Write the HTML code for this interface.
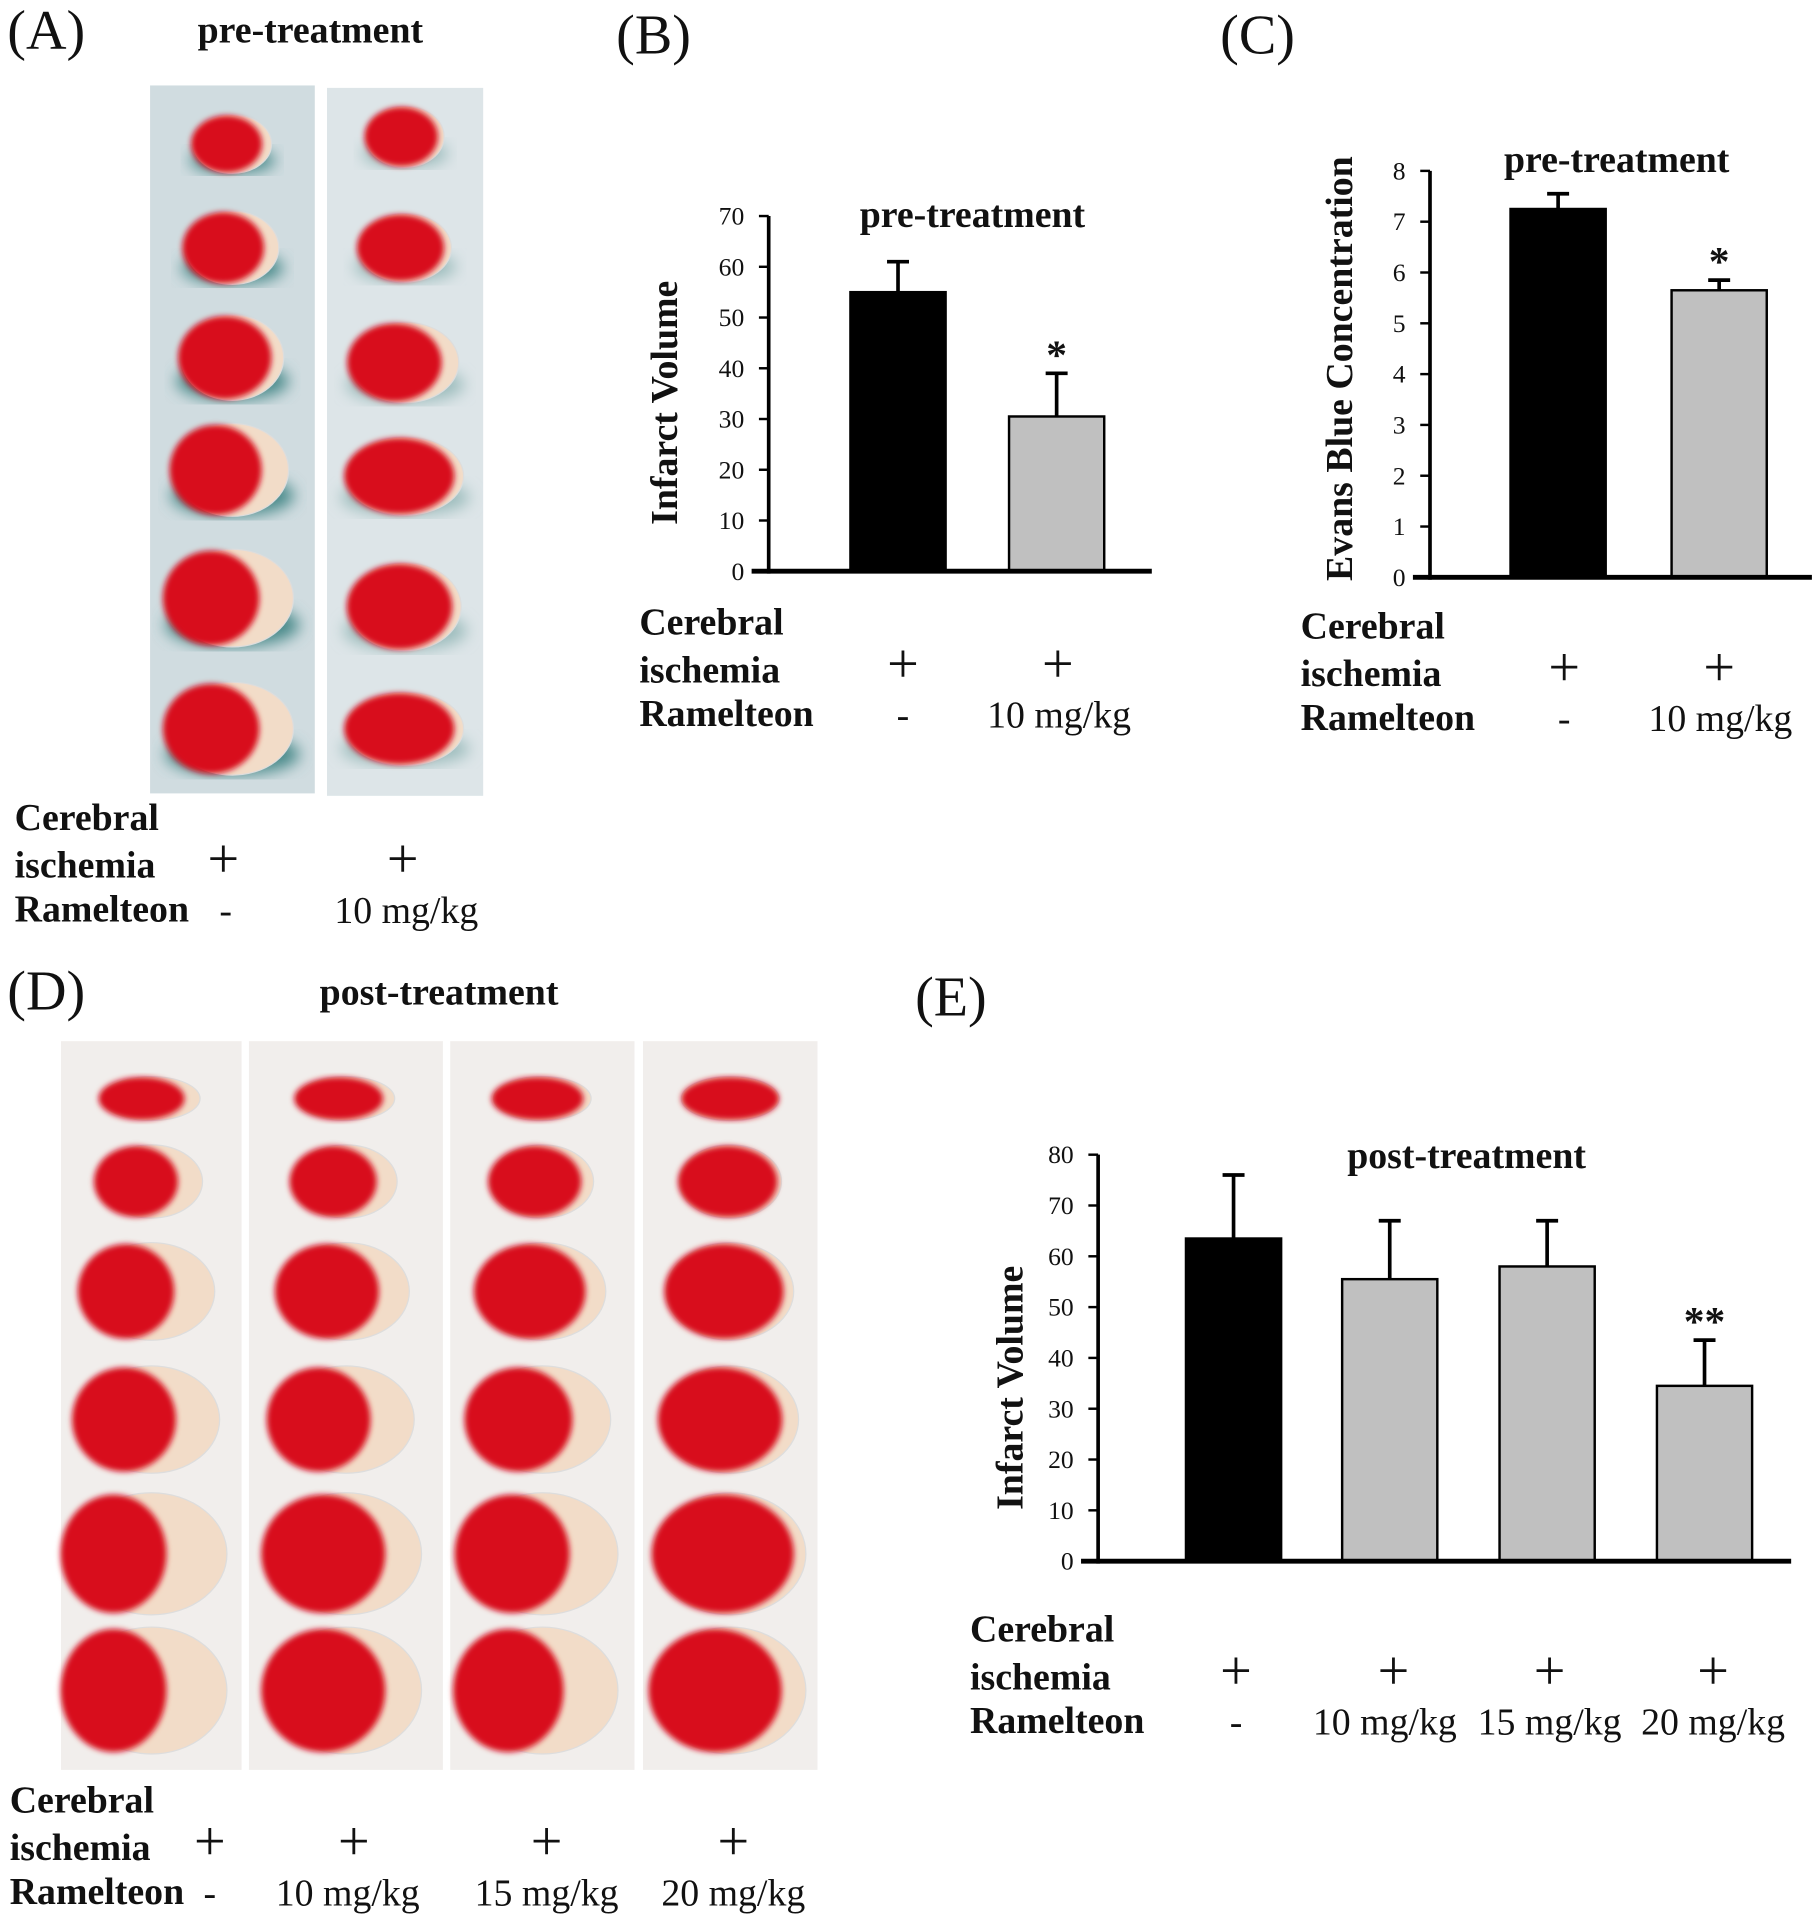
<!DOCTYPE html>
<html><head><meta charset="utf-8"><style>
html,body{margin:0;padding:0;background:#fff}
svg{display:block}
text{font-family:"Liberation Serif",serif;fill:#111}
</style></head><body>
<svg id="fig" width="1818" height="1920" viewBox="0 0 1490 1573" preserveAspectRatio="none">
<defs>
<filter id="blur"><feGaussianBlur stdDeviation="2.5"/></filter>
<filter id="blur2"><feGaussianBlur stdDeviation="6"/></filter>
</defs>
<text x="6" y="40" font-size="46">(A)</text>
<text x="162" y="35" font-size="31" font-weight="bold">pre-treatment</text>
<text x="505" y="44" font-size="46">(B)</text>
<text x="1000" y="44" font-size="46">(C)</text>
<text x="6" y="827" font-size="46">(D)</text>
<text x="262" y="823" font-size="31" font-weight="bold">post-treatment</text>
<text x="750" y="832" font-size="46">(E)</text>
<g id="imgs"></g>
<g id="charts"></g>
<g id="labels" font-size="31"></g>
</svg>
<script>
// ===== Chart data =====
const bCategories = ["control", "10 mg/kg"];
const bValues = [55, 30.5];
const bErrors = [6, 8.5];
const bTicks = [0,10,20,30,40,50,60,70];
const cCategories = ["control", "10 mg/kg"];
const cValues = [7.25, 5.65];
const cErrors = [0.3, 0.2];
const cTicks = [0,1,2,3,4,5,6,7,8];
const eCategories = ["control", "10 mg/kg", "15 mg/kg", "20 mg/kg"];
const eValues = [63.5, 55.5, 58, 34.5];
const eErrors = [12.5, 11.5, 9, 9];
const eTicks = [0,10,20,30,40,50,60,70,80];
const eSig = ["", "", "", "**"];
const bSig = ["", "*"];
const cSig = ["", "*"];

const NS = "http://www.w3.org/2000/svg";
function mk(tag, attrs, parent, txt){
  const e = document.createElementNS(NS, tag);
  for (const k in attrs) e.setAttribute(k, attrs[k]);
  if (txt !== undefined) e.textContent = txt;
  parent.appendChild(e); return e;
}
const charts = document.getElementById('charts');

function chart(cfg){
  const g = mk('g', {}, charts);
  
  
  const ymax = cfg.ticks[cfg.ticks.length-1];
  const y = v => cfg.y0 - (v / ymax) * (cfg.y0 - cfg.ytop);
  cfg.values.forEach((v, i) => {
    const x0 = cfg.barX[i], w = cfg.barW;
    const top = y(v), et = y(v + cfg.errors[i]);
    const cx = x0 + w/2;
    const el = mk('line', {x1:cx, x2:cx, y1:top, y2:et, stroke:'#000','stroke-width':3}, g);
    
    
    const cap = mk('line', {x1:cx-9, x2:cx+9, y1:et, y2:et, stroke:'#000','stroke-width':3}, g);
    
    
    const r = mk('rect', {x:x0, y:top, width:w, height:cfg.y0-top, fill: i===0?'#000':'#c0c0c0', stroke:'#000','stroke-width':2}, g);
    
    
    if (cfg.sig[i]) {
      const s = mk('text', {x:cx, y:et-4, 'font-size':34, 'text-anchor':'middle', 'font-weight':'bold'}, g, cfg.sig[i]);
      
      
    }
  });
  const ya = mk('line', {x1:cfg.x, x2:cfg.x, y1:cfg.ytop, y2:cfg.y0+2, stroke:'#000','stroke-width':3}, g);
  
  
  const xa = mk('line', {x1:cfg.x-14, x2:cfg.xend, y1:cfg.y0, y2:cfg.y0, stroke:'#000','stroke-width':4}, g);
  
  
  cfg.ticks.forEach(t => {
    const ty = y(t);
    const tl = mk('line', {x1:cfg.x-8, x2:cfg.x, y1:ty, y2:ty, stroke:'#000','stroke-width':2}, g);
    
    
    const tt = mk('text', {x:cfg.x-20, y:ty+7, 'font-size':21, 'text-anchor':'end', 'font-family':'Liberation Sans Narrow, Liberation Sans, sans-serif'}, g, String(t));
    
    
  });
  const yt = mk('text', {x:0, y:0, transform:`translate(${cfg.ytx},${cfg.yty}) rotate(-90)`, 'font-size':cfg.ytSize||31, 'font-weight':'bold', 'text-anchor':'middle'}, g, cfg.ytitle);
  
  
  const ti = mk('text', {x:cfg.tx, y:cfg.ty, 'font-size':31, 'font-weight':'bold', 'text-anchor':'middle'}, g, cfg.title);
  
  
}

chart({name:'chart-b', cats:bCategories, values:bValues, errors:bErrors, ticks:bTicks, sig:bSig,
  x:630, y0:468, ytop:177, xend:944, barX:[697,827], barW:78, ytitle:'Infarct Volume', ytx:555, yty:330,
  title:'pre-treatment', tx:797, ty:186});
chart({name:'chart-c', cats:cCategories, values:cValues, errors:cErrors, ticks:cTicks, sig:cSig,
  x:1172, y0:473, ytop:140, xend:1485, barX:[1238,1370], barW:78, ytitle:'Evans Blue Concentration', ytx:1108, yty:302, ytSize:31,
  title:'pre-treatment', tx:1325, ty:141});
chart({name:'chart-e', cats:eCategories, values:eValues, errors:eErrors, ticks:eTicks, sig:eSig,
  x:900, y0:1279, ytop:946, xend:1468, barX:[972,1100,1229,1358], barW:78, ytitle:'Infarct Volume', ytx:838, yty:1137,
  title:'post-treatment', tx:1202, ty:957});

// ===== Brain images =====
const imgs = document.getElementById('imgs');
function column(x, w, yTop, yBot, bg, rows, shadow, paleFrac){
  const g = mk('g', {}, imgs);
  
  
  mk('rect', {x:x, y:yTop, width:w, height:yBot-yTop, fill:bg}, g);
  rows.forEach((r, i) => {
    const cx = x + w/2 + (r[3]||0);
    if (shadow) mk('ellipse', {cx:cx, cy:r[0]+r[2]*0.55, rx:r[1]*1.1, ry:r[2]*0.45, fill:shadow, filter:'url(#blur2)'}, g);
    mk('ellipse', {cx:cx, cy:r[0], rx:r[1], ry:r[2], fill:'#f2dcc8', stroke:'#ddd', 'stroke-width':1}, g);
    const pf = paleFrac[i];
    mk('ellipse', {cx:cx - r[1]*pf, cy:r[0], rx:r[1]*(1-pf*0.6), ry:r[2]*0.97, fill:'#d8101a', filter:'url(#blur)'}, g);
  });
}
const aRows = [[118,32,24],[203,38,30],[293,42,35],[385,46,38],[490,50,40],[597,50,38]];
const aRows2 = [[112,32,25],[203,38,28],[297,44,33],[390,48,32],[497,46,36],[597,48,30]];
column(123,135,70,650,'#d0dce0',aRows,'#4a8a8a',[0.15,0.2,0.15,0.3,0.35,0.35]);
column(268,128,72,652,'#dde5e8',aRows2,'#9bbcbc',[0.1,0.1,0.2,0.1,0.1,0.1]);
const dRows = [[900,40,18],[968,42,30],[1058,52,40],[1163,56,44],[1273,62,50],[1385,62,52]];
const dDefs = [[50,148,[0.2,0.3,0.4,0.4,0.5,0.5]],[204,159,[0.15,0.25,0.3,0.4,0.3,0.3]],[369,151,[0.1,0.15,0.2,0.35,0.4,0.45]],[527,143,[0,0.05,0.1,0.15,0.1,0.2]]];
dDefs.forEach(d => column(d[0], d[1], 853, 1450, '#f1eeec', dRows, null, d[2]));

// ===== Condition labels =====
const L = document.getElementById('labels');
function t(x, y, s, name, anchor, bold, size){
  const a = {x:x, y:y, 'text-anchor':anchor||'start', 'font-weight': bold===false?'normal':'bold'};
  if (size) a['font-size'] = size;
  const e = mk('text', a, L, s);
  
  
}
function block(x, y, plusX, doseX, doses){
  t(x, y, 'Cerebral', 'row-label-cerebral');
  t(x, y+39, 'ischemia', 'row-label-ischemia');
  t(x, y+75, 'Ramelteon', 'row-label-ramelteon');
  plusX.forEach(px => t(px, y+39, '+', 'ischemia-plus', 'middle', false, 46));
  doseX.forEach((dx, i) => t(dx, y+76, doses[i], 'ramelteon-dose', 'middle', false));
}
block(12, 680, [183,330], [185,333], ['-','10 mg/kg']);
block(524, 520, [740,867], [740,868], ['-','10 mg/kg']);
block(1066, 523, [1282,1409], [1282,1410], ['-','10 mg/kg']);
block(8, 1485, [172,290,448,601], [172,285,448,601], ['-','10 mg/kg','15 mg/kg','20 mg/kg']);
block(795, 1345, [1013,1142,1270,1404], [1013,1135,1270,1404], ['-','10 mg/kg','15 mg/kg','20 mg/kg']);
</script>
</body></html>
